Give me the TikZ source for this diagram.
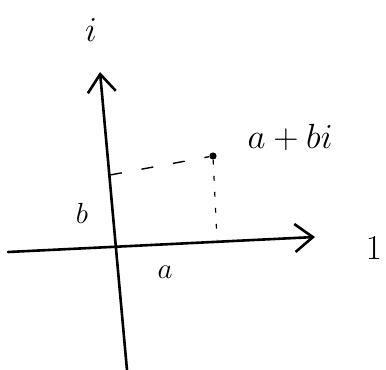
\documentclass[tikz,border=0pt]{standalone}
\usetikzlibrary{arrows.meta}
\begin{document}
\begin{tikzpicture}[x=0.25mm,y=-0.25mm,
 every node/.style={font=\fontsize{30}{34}\selectfont,inner sep=1pt},
 lbl/.style={font=\fontsize{20}{24}\selectfont},
 axis/.style={line width=0.65mm,line cap=round,-{Straight Barb[length=4.5mm,width=7mm]}},
 guide/.style={line width=0.35mm,dash pattern=on 3mm off 5mm},
 drop/.style={line width=0.3mm,dash pattern=on 1.2mm off 2.8mm},
 dot/.style={circle,fill,inner sep=0pt,minimum size=1.8mm}]
\useasboundingbox (0,0) rectangle (386,370);
\coordinate (xl) at (8,252);
\coordinate (xr) at (315,237);
\coordinate (yb) at (127,370);
\coordinate (yt) at (100,72);
\coordinate (yb0) at (110,175);
\coordinate (xa0) at (217,240);
\node[dot] (p) at (213,156) {};
\draw[axis] (xl)--(xr);\draw[axis] (yb)--(yt);
\draw[guide] (yb0)--(p);\draw[drop] (p)--(xa0);
\node (re) at (374,248) {$1$};
\node (im) at (91,30) {$i$};
\node (z) at (290,137) {$a+bi$};
\node[lbl] (bv) at (82,213) {$b$};
\node[lbl] (av) at (165,272) {$a$};
\end{tikzpicture}
\end{document}
